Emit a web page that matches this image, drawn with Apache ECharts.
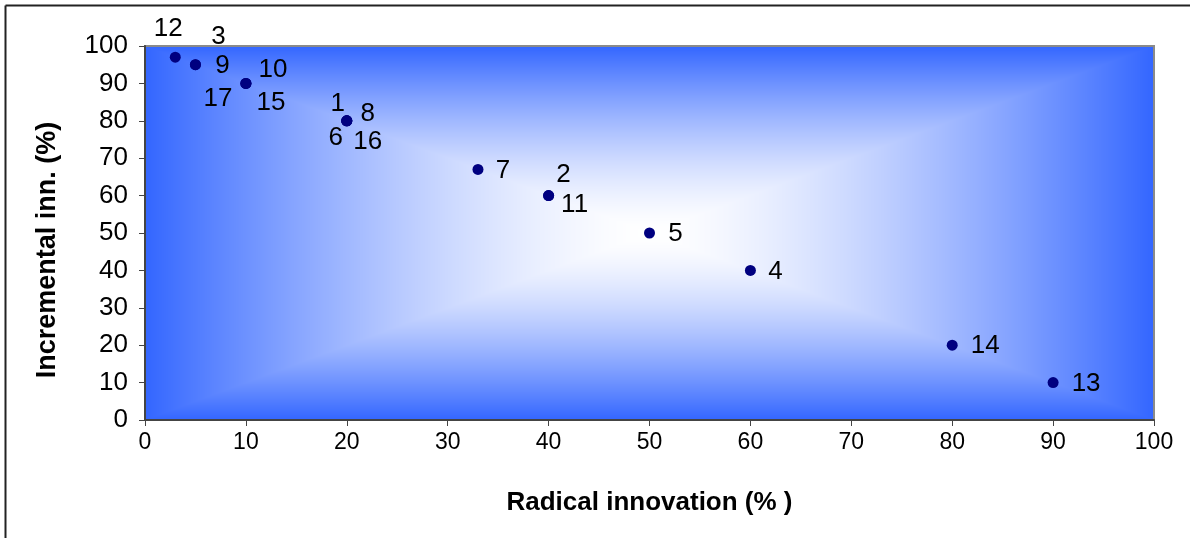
<!DOCTYPE html>
<html>
<head>
<meta charset="utf-8">
<script src="https://cdn.jsdelivr.net/npm/echarts@6/dist/echarts.min.js"></script>
<style>
  html, body { margin: 0; padding: 0; background: #fff; }
  #chart { width: 1190px; height: 538px; }
</style>
</head>
<body>
<div id="chart"></div>
<script>
// Radical vs incremental innovation share per respondent
const pointIds    = ['1', '2', '3', '4', '5', '6', '7', '8', '9', '10', '11', '12', '13', '14', '15', '16', '17'];
const radicalPct  = [20, 40, 5, 60, 50, 20, 33, 20, 5, 10, 40, 3, 90, 80, 10, 20, 10];
const incrementalPct = [80, 60, 95, 40, 50, 80, 67, 80, 95, 90, 60, 97, 10, 20, 90, 80, 90];
const xTicks = [0, 10, 20, 30, 40, 50, 60, 70, 80, 90, 100];
const yTicks = [0, 10, 20, 30, 40, 50, 60, 70, 80, 90, 100];

// label placement (pixel offsets from the marker) so coincident points stay readable
const labelOffsets = [
  [-9, -17], [15, -21], [23, -28], [25, 1], [26, 1], [-11, 17], [25, 1], [21, -7],
  [27, 1], [27, -14], [26, 9], [-7, -28], [33, 1], [33, 1], [25, 19], [21, 21], [-28, 15]
];

const G = { left: 145, top: 46, right: 1154, bottom: 420 };
const W = G.right - G.left, H = G.bottom - G.top;

// rectangular "from centre" gradient: white in the middle, blue at the edges
function makeBackground() {
  const c = document.createElement('canvas');
  c.width = W; c.height = H;
  const ctx = c.getContext('2d');
  const img = ctx.createImageData(W, H);
  const edge = [51, 102, 255];
  const hw = W / 2, hh = H / 2;
  for (let y = 0; y < H; y++) {
    for (let x = 0; x < W; x++) {
      const d = Math.max(Math.abs(x + 0.5 - hw) / hw, Math.abs(y + 0.5 - hh) / hh);
      const t = Math.pow(d, 1.5);
      const i = (y * W + x) * 4;
      img.data[i]     = Math.round(255 + (edge[0] - 255) * t);
      img.data[i + 1] = Math.round(255 + (edge[1] - 255) * t);
      img.data[i + 2] = Math.round(255 + (edge[2] - 255) * t);
      img.data[i + 3] = 255;
    }
  }
  ctx.putImageData(img, 0, 0);
  return c;
}

const data = pointIds.map((id, i) => ({
  value: [radicalPct[i], incrementalPct[i]],
  name: id
}));

const chart = echarts.init(document.getElementById('chart'), null, { renderer: 'canvas' });
chart.setOption({
  animation: false,
  backgroundColor: '#ffffff',
  textStyle: { fontFamily: 'Liberation Sans, Arial, sans-serif' },
  grid: {
    left: G.left, top: G.top, width: W, height: H,
    show: true, backgroundColor: 'transparent',
    borderColor: '#8a8a8a', borderWidth: 2
  },
  graphic: [
    { type: 'image', z: -10, silent: true,
      style: { image: makeBackground(), x: G.left, y: G.top, width: W, height: H } },
    { type: 'line', z: 10, silent: true,
      shape: { x1: 5.5, y1: 5.5, x2: 1190, y2: 5.5 }, style: { stroke: '#222', lineWidth: 2 } },
    { type: 'line', z: 10, silent: true,
      shape: { x1: 5.5, y1: 5.5, x2: 5.5, y2: 538 }, style: { stroke: '#222', lineWidth: 2 } }
  ],
  xAxis: {
    type: 'value', min: xTicks[0], max: xTicks[xTicks.length - 1], interval: 10,
    name: 'Radical innovation (% )', nameLocation: 'middle', nameGap: 70,
    nameTextStyle: { fontSize: 26, fontWeight: 'bold', color: '#000' },
    axisLine: { show: true, onZero: false, lineStyle: { color: '#444', width: 2 } },
    axisTick: { show: true, length: 6, lineStyle: { color: '#444', width: 1 } },
    axisLabel: { fontSize: 23, color: '#000', margin: 11 },
    splitLine: { show: false }
  },
  yAxis: {
    type: 'value', min: yTicks[0], max: yTicks[yTicks.length - 1], interval: 10,
    name: 'Incremental inn. (%)', nameLocation: 'middle', nameGap: 84, nameRotate: 90,
    nameTextStyle: { fontSize: 27, fontWeight: 'bold', color: '#000', padding: [0, 34, 0, 0] },
    axisLine: { show: true, onZero: false, lineStyle: { color: '#444', width: 2 } },
    axisTick: { show: true, length: 6, lineStyle: { color: '#444', width: 1 } },
    axisLabel: { fontSize: 26, color: '#000', margin: 17 },
    splitLine: { show: false }
  },
  series: [{
    type: 'scatter',
    symbol: 'circle',
    symbolSize: 11,
    itemStyle: { color: '#000080', opacity: 1 },
    label: {
      show: true,
      position: 'inside',
      formatter: p => p.name,
      fontSize: 26,
      color: '#000',
      opacity: 1
    },
    emphasis: { disabled: true },
    labelLayout: function (params) {
      const o = labelOffsets[params.dataIndex];
      return { dx: o[0], dy: o[1], hideOverlap: false };
    },
    data: data
  }]
});
</script>
</body>
</html>
